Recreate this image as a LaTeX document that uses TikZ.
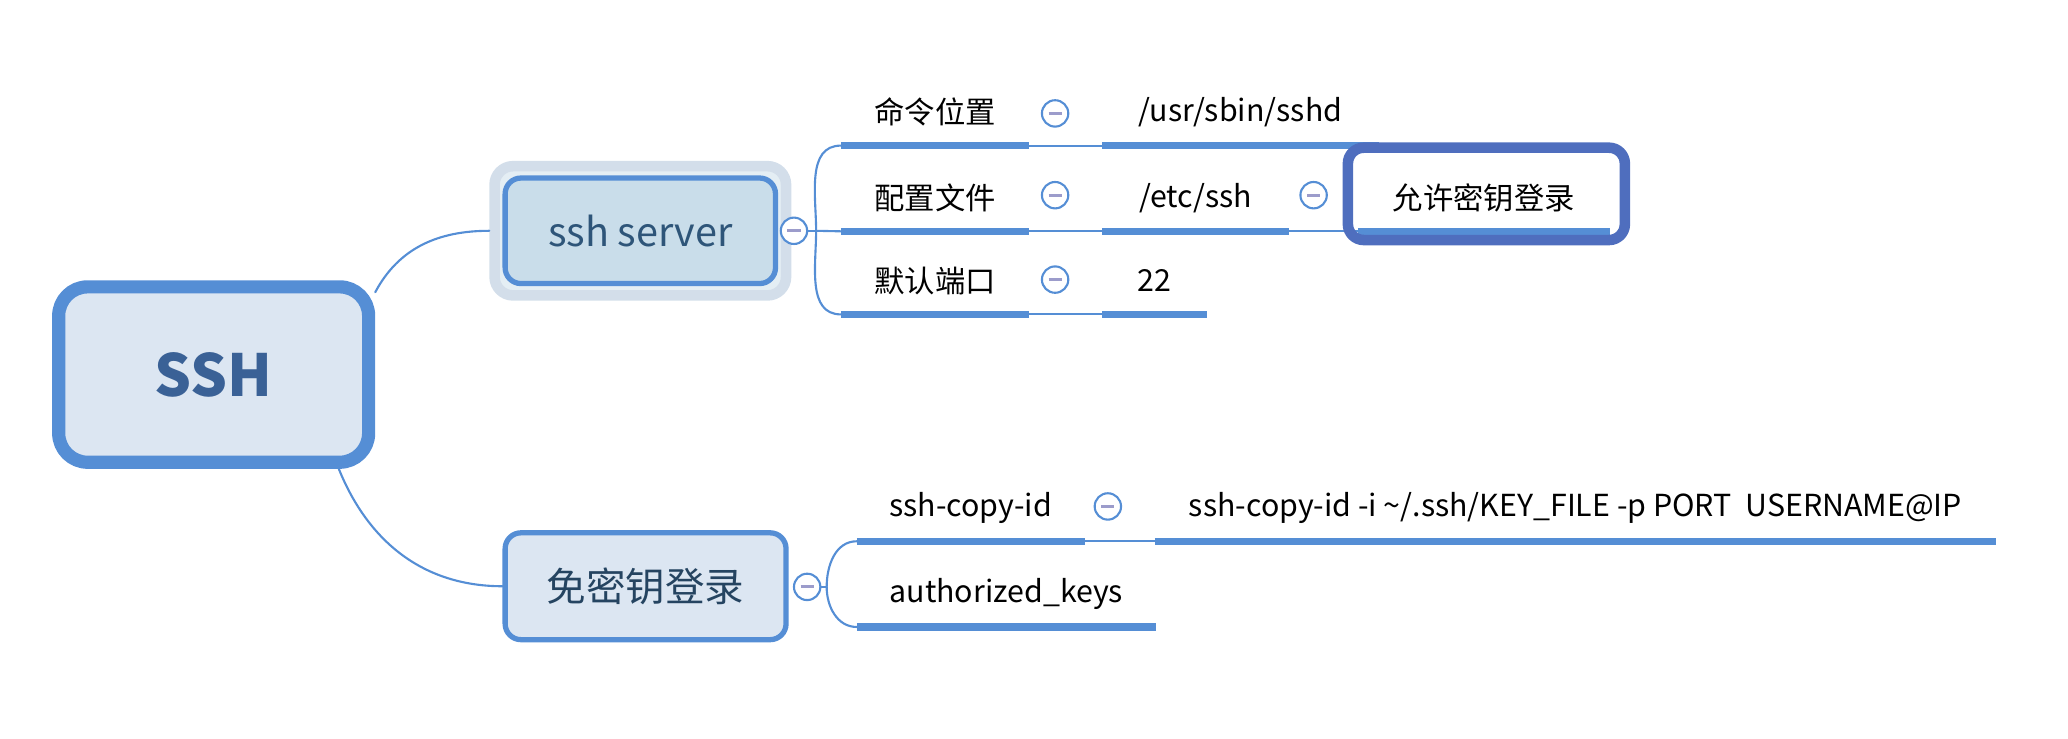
\documentclass[tikz,border=0pt]{standalone}
\usepackage{fontspec}
\setmainfont{Noto Sans CJK SC}
\definecolor{lineblue}{HTML}{558ED5}
\definecolor{rootfill}{HTML}{DCE6F2}
\definecolor{srvfill}{HTML}{C9DDEA}
\definecolor{glowout}{HTML}{D3DEEA}
\definecolor{glowin}{HTML}{E4EEF4}
\definecolor{deepblue}{HTML}{2E5579}
\definecolor{rootblue}{HTML}{3A6196}
\definecolor{selblue}{HTML}{4F6EBE}
\definecolor{minusgray}{HTML}{9C9CCB}
\def\ctrlmark{{\color{minusgray}\rule{5pt}{1.1pt}}}
\begin{document}
\begin{tikzpicture}[x=0.5pt, y=-0.5pt, line join=round, line cap=round,
	link/.style={lineblue, line width=0.8pt},
	uline/.style={lineblue, line width=2.7pt, line cap=butt},
	topic/.style={minimum height=25pt, inner sep=0pt, font=\fontsize{11.5}{14}\selectfont},
	ctrl/.style={circle, draw=lineblue, fill=white, line width=0.8pt, minimum size=10pt, inner sep=0pt},
	mainbox/.style={rectangle, rounded corners=6pt, draw=lineblue, line width=2pt, fill=rootfill, text=deepblue, font=\fontsize{15}{18}\selectfont, minimum width=106.5pt, minimum height=40.5pt, inner sep=0pt}]
	\useasboundingbox (0,0) rectangle (1568,560);
	% root and first level
	\node[rectangle, rounded corners=11pt, draw=lineblue, line width=5pt, fill=rootfill, text=rootblue, font=\fontsize{22}{26}\selectfont\bfseries, minimum width=117.5pt, minimum height=66.5pt] (ssh) at (162,284) {SSH};
	\node[rectangle, rounded corners=7pt, draw=glowout, line width=4pt, fill=glowin, minimum width=110.5pt, minimum height=49pt] (srvglow) at (485.5,175) {};
	\node[mainbox, fill=srvfill, minimum width=102.5pt, minimum height=40pt] (srv) at (485.5,175) {ssh server};
	\node[mainbox, text=deepblue!80!black] (nokey) at (489.5,444.5) {免密钥登录};
	\node[ctrl] (srvctl) at (602,175) {\ctrlmark};
	\node[ctrl] (nokeyctl) at (612,445) {\ctrlmark};
	% ssh server branch
	\node[topic, minimum width=71pt] (pos) at (709,85) {命令位置};
	\node[topic, minimum width=71pt] (cfg) at (709,150) {配置文件};
	\node[topic, minimum width=71pt] (port) at (709,213) {默认端口};
	\node[topic, minimum width=104.5pt] (sbin) at (940.5,85) {/usr/sbin/sshd};
	\node[topic, minimum width=70.5pt] (etc) at (906.5,150) {/etc/ssh};
	\node[topic, minimum width=39.5pt] (p22) at (875.5,213) {22};
	\node[topic, minimum width=95pt] (allow) at (1125,150) {允许密钥登录};
	\foreach \n/\y in {pos/86, cfg/148, port/212} \node[ctrl] (\n ctl) at (800,\y) {\ctrlmark};
	\node[ctrl] (etcctl) at (996,148) {\ctrlmark};
	% no-password branch
	\node[topic, minimum width=86pt] (cpid) at (736,385) {ssh-copy-id};
	\node[topic, minimum width=318.5pt] (cmd) at (1194.5,385) {ssh-copy-id -i \textasciitilde/.ssh/KEY\_FILE -p PORT\ \ USERNAME@IP};
	\node[topic, minimum width=113pt] (auth) at (763,450) {authorized\_keys};
	\node[ctrl] (cpidctl) at (840,384) {\ctrlmark};
	% connectors
	\draw[link] (ssh.27) to[out=62, in=180] (srvglow.west);
	\draw[link] (ssh.-37) to[out=-68, in=180] (nokey.west);
	\draw[link] (srvctl.east) -- ++(6,0) coordinate (srvfork);
	\draw[link] (srvfork) to[out=90, in=180] (pos.south west);
	\draw[link] (srvfork) -- (cfg.south west);
	\draw[link] (srvfork) to[out=-90, in=180] (port.south west);
	\draw[link] (nokeyctl.east) -- ++(4,0) coordinate (nokeyfork);
	\draw[link] (nokeyfork) to[out=90, in=180] (cpid.south west);
	\draw[link] (nokeyfork) to[out=-90, in=180] (auth.south west);
	\foreach \a/\b in {pos/sbin, cfg/etc, port/p22, etc/allow, cpid/cmd} \draw[link] (\a.south east) -- (\b.south west);
	\foreach \n in {pos, cfg, port, sbin, etc, p22, allow, cpid, cmd, auth} \draw[uline] (\n.south west) -- (\n.south east);
	\node[rectangle, rounded corners=6pt, draw=selblue, line width=4pt, minimum width=105pt, minimum height=35pt] (allowsel) at (1127,147) {};
\end{tikzpicture}
\end{document}
